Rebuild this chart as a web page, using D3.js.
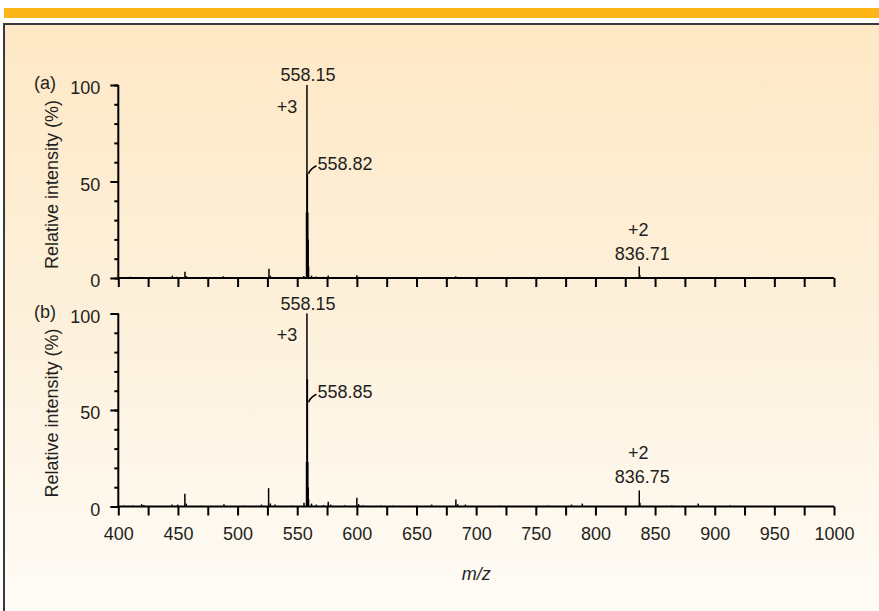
<!DOCTYPE html>
<html>
<head>
<meta charset="utf-8">
<script src="https://cdn.jsdelivr.net/npm/d3@7"></script>
<style>
    body { margin: 0; background: #ffffff; }
    text { font-family: "Liberation Sans", Arial, sans-serif; fill: #231f20; }
</style>
</head>
<body>
<div id="chart"></div>
<script>
// peak positions (m/z) and relative intensities (%)
var mzA = [405, 409.8, 418, 421, 430, 445.3, 449, 455.9, 457, 470, 488, 505, 520, 526.3, 527.5, 531,
    555.5, 557.8, 558.15, 558.48, 558.82, 559.15, 559.5, 562, 566, 572, 576, 582, 590, 600, 601.5,
    620, 650, 682.9, 720, 760, 789, 836.71, 837.2, 886, 920, 960];
var intA = [0.4, 0.6, 0.5, 0.4, 0.3, 1.2, 0.6, 3.2, 1.0, 0.3, 0.9, 0.3, 0.5, 4.8, 1.2, 0.4,
    1.0, 34, 100, 54, 34, 20, 6, 1.2, 0.8, 0.6, 1.3, 0.5, 0.5, 1.4, 0.6,
    0.3, 0.3, 0.9, 0.3, 0.3, 0.5, 5.9, 1.5, 0.5, 0.3, 0.3];

var mzB = [405, 412, 419.6, 421.5, 430, 445, 449.8, 455.8, 457, 470, 488.6, 505, 520, 526, 527.5, 531.4,
    545, 555.7, 557.8, 558.15, 558.5, 558.85, 559.2, 559.5, 562, 566, 572, 576, 578, 590, 600, 601.5, 605,
    620, 630, 650, 662.7, 683, 684.5, 691, 720, 760, 780, 789, 836.75, 837.3, 864, 886.2, 912.8, 950];
var intB = [0.5, 0.5, 1.2, 0.8, 0.3, 1.1, 1.0, 6.6, 1.5, 0.4, 1.2, 0.4, 1.0, 9.5, 1.6, 1.0,
    0.4, 2.0, 23, 100, 66, 23, 10, 4, 1.5, 1.0, 0.8, 2.4, 1.0, 0.6, 4.5, 1.2, 0.7,
    0.5, 0.4, 0.4, 1.0, 3.6, 1.2, 1.0, 0.4, 0.5, 1.0, 1.5, 8.3, 2.0, 0.5, 1.5, 0.5, 0.3];

var xTicks = d3.range(400, 1001, 25);
var xTickLabels = d3.range(400, 1001, 50);
var yMajor = [0, 50, 100];
var yMinor = d3.range(0, 101, 10);

var svgWidth = 879;
var svgHeight = 611;
var fontSize = "18px";

var svg = d3.select("#chart")
    .append("svg")
    .attr("width", svgWidth)
    .attr("height", svgHeight);

// background gradient of the box
var grad = svg.append("defs").append("linearGradient")
    .attr("id", "bg")
    .attr("x1", 0).attr("y1", 0).attr("x2", 0).attr("y2", 1);
grad.append("stop").attr("offset", "0%").attr("stop-color", "#fee8c5");
grad.append("stop").attr("offset", "50%").attr("stop-color", "#fdf1dc");
grad.append("stop").attr("offset", "100%").attr("stop-color", "#fffdf9");

// orange bar on top
svg.append("rect")
    .attr("x", 4).attr("y", 8)
    .attr("width", svgWidth - 4).attr("height", 10)
    .attr("fill", "#fdb618");

// framed box
svg.append("rect")
    .attr("x", 4).attr("y", 24)
    .attr("width", svgWidth + 10).attr("height", svgHeight)
    .attr("fill", "url(#bg)")
    .attr("stroke", "#3a3a3a")
    .attr("stroke-width", 2);

// shared x scale
var xScale = d3.scaleLinear()
    .domain([400, 1000])
    .range([118.3, 834]);

function drawPanel(top, bottom, mz, inten, tag, showLabels) {
    var yScale = d3.scaleLinear()
        .domain([0, 100])
        .range([bottom, top]);

    var g = svg.append("g");

    // spectrum sticks
    g.selectAll("line.peak")
        .data(mz)
        .enter()
        .append("line")
        .attr("class", "peak")
        .attr("x1", d => xScale(d))
        .attr("x2", d => xScale(d))
        .attr("y1", yScale(0))
        .attr("y2", (d, i) => yScale(inten[i]))
        .attr("stroke", "#000")
        .attr("stroke-width", 1.5);

    // x axis
    var bottomAxis = d3.axisBottom(xScale)
        .tickValues(xTicks)
        .tickSize(9)
        .tickFormat(d => (showLabels && xTickLabels.indexOf(d) >= 0) ? d : "");
    var xAxis = g.append("g")
        .attr("transform", `translate(0, ${bottom})`)
        .call(bottomAxis);
    xAxis.select(".domain").attr("stroke-width", 2).attr("d", `M${xScale(400)},0H${xScale(1000)}`);
    xAxis.selectAll(".tick line").attr("stroke-width", 2);
    xAxis.selectAll(".tick text")
        .attr("y", 21)
        .attr("dy", "0.71em")
        .style("font-size", fontSize)
        .style("font-family", "Liberation Sans, Arial, sans-serif")
        .attr("fill", "#231f20");

    // y axis: minor ticks then major ticks
    var minorAxis = d3.axisLeft(yScale)
        .tickValues(yMinor)
        .tickSize(4)
        .tickFormat("");
    var yMinorG = g.append("g")
        .attr("transform", `translate(${xScale(400)}, 0)`)
        .call(minorAxis);
    yMinorG.select(".domain").remove();
    yMinorG.selectAll(".tick line").attr("stroke-width", 2);

    var leftAxis = d3.axisLeft(yScale)
        .tickValues(yMajor)
        .tickSize(8)
        .tickPadding(10);
    var yAxis = g.append("g")
        .attr("transform", `translate(${xScale(400)}, 0)`)
        .call(leftAxis);
    yAxis.select(".domain").attr("stroke-width", 2).attr("d", `M0,${bottom}V${top}`);
    yAxis.selectAll(".tick line").attr("stroke-width", 2);
    yAxis.selectAll(".tick text")
        .attr("dy", "0.48em")
        .style("font-size", fontSize)
        .style("font-family", "Liberation Sans, Arial, sans-serif")
        .attr("fill", "#231f20");

    // y axis title
    g.append("text")
        .attr("transform", `translate(58, ${(top + bottom) / 2 + 3}) rotate(-90)`)
        .attr("text-anchor", "middle")
        .style("font-size", fontSize)
        .text("Relative intensity (%)");

    // panel tag
    g.append("text")
        .attr("x", 45)
        .attr("y", top + 4)
        .attr("text-anchor", "middle")
        .style("font-size", fontSize)
        .text(tag);

    return yScale;
}

var yA = drawPanel(85, 278, mzA, intA, "(a)", false);
var yB = drawPanel(313.5, 506.5, mzB, intB, "(b)", true);

// peak annotations
function annotate(yScale, second, secondInt, big2, big2Int, dyPlus3) {
    var g = svg.append("g").style("font-size", fontSize);

    g.append("text")
        .attr("x", xScale(558.15) + 1)
        .attr("y", yScale(100) - 4)
        .attr("text-anchor", "middle")
        .text("558.15");

    g.append("text")
        .attr("x", xScale(558.15) - 20)
        .attr("y", yScale(100) + dyPlus3)
        .attr("text-anchor", "middle")
        .text("+3");

    // little leader to the second isotope peak
    var lx = xScale(558.15) + 1.5;
    var ly = yScale(secondInt);
    g.append("path")
        .attr("d", `M${lx},${ly} Q${lx + 2},${ly - 5} ${lx + 8},${ly - 8}`)
        .attr("fill", "none")
        .attr("stroke", "#000")
        .attr("stroke-width", 1.6);

    g.append("text")
        .attr("x", lx + 9)
        .attr("y", ly - 4)
        .text(second);

    g.append("text")
        .attr("x", xScale(836.7) - 1)
        .attr("y", yScale(big2Int) - 31)
        .attr("text-anchor", "middle")
        .text("+2");

    g.append("text")
        .attr("x", xScale(836.7) + 3)
        .attr("y", yScale(big2Int) - 7)
        .attr("text-anchor", "middle")
        .text(big2);
}

annotate(yA, "558.82", 54, "836.71", 5.9, 28);
annotate(yB, "558.85", 54, "836.75", 8.3, 27);

// x axis title
svg.append("text")
    .attr("x", (xScale(400) + xScale(1000)) / 2)
    .attr("y", 580)
    .attr("text-anchor", "middle")
    .style("font-size", fontSize)
    .style("font-style", "italic")
    .text("m/z");
</script>
</body>
</html>
